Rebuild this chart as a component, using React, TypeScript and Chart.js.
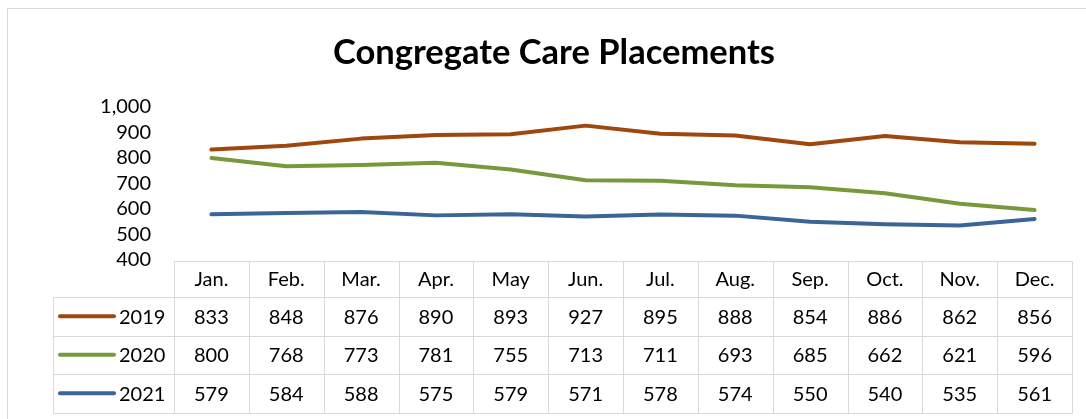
import React, { useEffect, useRef } from "react";
import { Chart, registerables } from "chart.js";

Chart.register(...registerables);

const months = ["Jan.", "Feb.", "Mar.", "Apr.", "May", "Jun.", "Jul.", "Aug.", "Sep.", "Oct.", "Nov.", "Dec."];
const seriesNames = ["2019", "2020", "2021"];
const values2019 = [833, 848, 876, 890, 893, 927, 895, 888, 854, 886, 862, 856];
const values2020 = [800, 768, 773, 781, 755, 713, 711, 693, 685, 662, 621, 596];
const values2021 = [579, 584, 588, 575, 579, 571, 578, 574, 550, 540, 535, 561];
const seriesColors = ["#9E480E", "#77993B", "#3B6497"];
const yMin = 400;
const yMax = 1000;
const yStep = 100;

const FONT = "Lato, 'Open Sans', sans-serif";

const tablePlugin = {
  id: "dataTable",
  afterDraw(chart: any) {
    const ctx = chart.ctx as CanvasRenderingContext2D;
    const { left, right, bottom } = chart.chartArea;
    const xs = chart.scales.x;
    const n = months.length;
    const colW = (right - left) / n;
    const top = Math.round(bottom) + 1;
    const headerH = 36;
    const rowH = 38.5;
    const legendLeft = 45;
    const allSeries = [values2019, values2020, values2021];
    const rowTops = [top, top + headerH, top + headerH + rowH, top + headerH + 2 * rowH, top + headerH + 3 * rowH];
    const px = (v: number) => Math.round(v) + 0.5;

    ctx.save();
    ctx.strokeStyle = "#d9d9d9";
    ctx.lineWidth = 1;
    ctx.beginPath();
    ctx.moveTo(px(left), px(rowTops[0]));
    ctx.lineTo(px(right), px(rowTops[0]));
    for (let r = 1; r < rowTops.length; r++) {
      ctx.moveTo(px(legendLeft), px(rowTops[r]));
      ctx.lineTo(px(right), px(rowTops[r]));
    }
    for (let i = 0; i <= n; i++) {
      const x = px(left + i * colW);
      ctx.moveTo(x, px(rowTops[0]));
      ctx.lineTo(x, px(rowTops[4]));
    }
    ctx.moveTo(px(legendLeft), px(rowTops[1]));
    ctx.lineTo(px(legendLeft), px(rowTops[4]));
    ctx.stroke();

    ctx.fillStyle = "#000";
    ctx.font = `20px ${FONT}`;
    ctx.textAlign = "center";
    ctx.textBaseline = "middle";
    for (let i = 0; i < n; i++) {
      const cx = xs.getPixelForValue(i);
      ctx.fillText(months[i], cx, rowTops[0] + headerH / 2 + 1);
      for (let s = 0; s < allSeries.length; s++) {
        ctx.fillText(String(allSeries[s][i]), cx, rowTops[s + 1] + rowH / 2 + 1);
      }
    }
    for (let s = 0; s < seriesNames.length; s++) {
      const cy = rowTops[s + 1] + rowH / 2;
      ctx.strokeStyle = seriesColors[s];
      ctx.lineWidth = 4;
      ctx.lineCap = "round";
      ctx.beginPath();
      ctx.moveTo(52, cy);
      ctx.lineTo(106, cy);
      ctx.stroke();
      ctx.textAlign = "left";
      ctx.fillText(seriesNames[s], 111, cy + 1);
    }
    ctx.restore();
  },
};

export default function App() {
  const ref = useRef<HTMLCanvasElement | null>(null);
  useEffect(() => {
    if (!ref.current) return;
    const chart = new Chart(ref.current, {
      type: "line",
      data: {
        labels: months,
        datasets: [values2019, values2020, values2021].map((d, i) => ({
          label: seriesNames[i],
          data: d,
          borderColor: seriesColors[i],
          backgroundColor: seriesColors[i],
          borderWidth: 4,
          pointRadius: 0,
          tension: 0,
          borderCapStyle: "round" as const,
          borderJoinStyle: "round" as const,
        })),
      },
      options: {
        responsive: false,
        animation: false,
        layout: { padding: { left: 28, right: 14, top: 0, bottom: 159 } },
        plugins: {
          legend: { display: false },
          tooltip: { enabled: false },
          title: {
            display: true,
            text: "Congregate Care Placements",
            color: "#000",
            font: { family: FONT, size: 34.5, weight: "bold", lineHeight: 1.2 },
            padding: { top: 23.5, bottom: 33.1 },
          },
        },
        scales: {
          x: {
            display: false,
            offset: true,
          },
          y: {
            min: yMin,
            max: yMax,
            grid: { display: false, drawTicks: false },
            border: { display: false },
            afterFit: (scale: any) => {
              scale.width = 138;
            },
            ticks: {
              stepSize: yStep,
              autoSkip: false,
              padding: 23,
              color: "#000",
              font: { family: FONT, size: 20 },
              callback: (v: any) => Number(v).toLocaleString("en-US"),
            },
          },
        },
      },
      plugins: [tablePlugin],
    });
    return () => chart.destroy();
  }, []);

  return (
    <div
      style={{
        position: "absolute",
        left: 7,
        top: 8,
        borderTop: "1px solid #d9d9d9",
        borderLeft: "1px solid #d9d9d9",
        background: "#fff",
      }}
    >
      <canvas ref={ref} width={1078} height={410} style={{ display: "block" }} />
    </div>
  );
}
